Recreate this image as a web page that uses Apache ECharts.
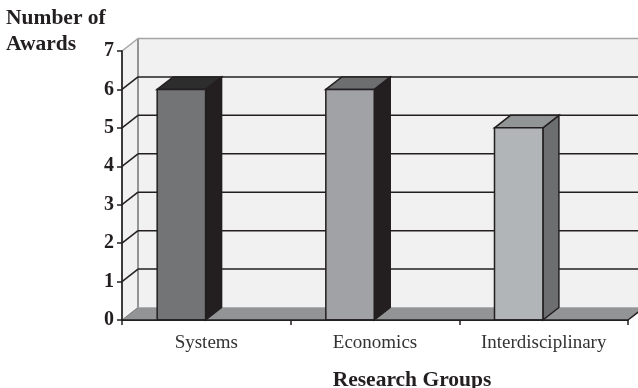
<!DOCTYPE html>
<html>
<head>
<meta charset="utf-8">
<style>html,body{margin:0;padding:0;background:#fff}#chart{width:638px;height:388px}</style>
<script src="https://cdn.jsdelivr.net/npm/echarts@6/dist/echarts.min.js"></script>
</head>
<body>
<div id="chart"></div>
<script>
// Awards per research group
const categories = ['Systems', 'Economics', 'Interdisciplinary'];
const awards = [6, 6, 5];
const valueTicks = [1, 2, 3, 4, 5, 6];
const frontColors = ['#737476', '#a1a2a5', '#b2b5b8'];
const topColors = ['#2e2d2e', '#6d6e70', '#929596'];
const sideColors = ['#231f20', '#231f20', '#6d6e70'];

const SERIF = '"Liberation Serif", "Times New Roman", serif';
const INK = '#231f20';
const DX = 16, DY = 12.5;           // pseudo-3D depth of the plot box
const BAR_RATIO = 0.287, BAR_SHIFT = -0.148; // bar width and offset, in bands

const chart = echarts.init(document.getElementById('chart'), null, { renderer: 'canvas' });

function poly(points, fill, stroke, lineWidth) {
  return {
    type: 'polygon',
    shape: { points },
    style: { fill, stroke: stroke || 'none', lineWidth: lineWidth || 0, lineJoin: 'miter' }
  };
}
function seg(x1, y1, x2, y2, stroke, lineWidth) {
  return { type: 'line', shape: { x1, y1, x2, y2 }, style: { stroke, lineWidth } };
}

// Back wall, side wall and floor of the box
function renderBox(params) {
  const c = params.coordSys;
  const l = c.x, r = c.x + c.width, t = c.y, b = c.y + c.height;
  const far = r + DX;
  return {
    type: 'group',
    children: [
      poly([[l + DX, t - DY], [far, t - DY], [far, b - DY], [l + DX, b - DY]], '#f1f1f1'),
      poly([[l, t], [l + DX, t - DY], [l + DX, b - DY], [l, b]], '#f1f1f1'),
      poly([[l, b], [l + DX, b - DY], [far, b - DY], [r, b]], '#939496'),
      seg(l + DX, b - DY, far, b - DY, '#b0b1b3', 1),
      seg(l + DX, t - DY, far, t - DY, '#a3a4a6', 1.5),
      seg(l + DX, t - DY, l + DX, b - DY, '#939496', 2),
      seg(l, t, l + DX, t - DY, '#a3a4a6', 1.5),
      seg(l, b, l + DX, b - DY, '#77787a', 1),
      seg(r, b, far, b - DY, INK, 1.5)
    ]
  };
}

// Gridline on the back wall plus its diagonal across the side wall
function renderGrid(params, api) {
  const c = params.coordSys;
  const y = api.coord([0, api.value(0)])[1];
  return {
    type: 'group',
    children: [
      seg(c.x, y, c.x + DX, y - DY, INK, 1.5),
      seg(c.x + DX, y - DY, c.x + c.width + DX, y - DY, INK, 1.5)
    ]
  };
}

// Box-shaped bar: front, top and side faces
function renderBar(params, api) {
  const i = api.value(0);
  const top = api.coord([i, api.value(1)]);
  const base = api.coord([i, 0]);
  const band = api.size([1, 0])[0];
  const w = band * BAR_RATIO;
  const x0 = top[0] + band * BAR_SHIFT - w / 2;
  const x1 = x0 + w;
  const yt = top[1], yb = base[1];
  return {
    type: 'group',
    children: [
      poly([[x1, yt], [x1 + DX, yt - DY], [x1 + DX, yb - DY], [x1, yb]], sideColors[i], INK, 1.5),
      poly([[x0, yt], [x0 + DX, yt - DY], [x1 + DX, yt - DY], [x1, yt]], topColors[i], INK, 1.5),
      poly([[x0, yt], [x1, yt], [x1, yb], [x0, yb]], frontColors[i], INK, 1.5)
    ]
  };
}

chart.setOption({
  animation: false,
  backgroundColor: '#ffffff',
  title: {
    text: 'Number of\nAwards',
    left: 6,
    top: 5,
    padding: 0,
    textStyle: { fontFamily: SERIF, fontWeight: 'bold', fontSize: 21.5, lineHeight: 26, color: INK }
  },
  grid: { left: 122, top: 51, width: 506, height: 269, containLabel: false, outerBoundsMode: 'none' },
  xAxis: {
    type: 'category',
    data: categories,
    z: 5,
    name: 'Research Groups',
    nameLocation: 'middle',
    nameGap: 49,
    nameTextStyle: { fontFamily: SERIF, fontWeight: 'bold', fontSize: 21.5, color: INK, padding: [0, 0, 0, 74] },
    axisLine: { lineStyle: { color: INK, width: 1.75 } },
    axisTick: { show: true, alignWithLabel: false, length: 5, lineStyle: { color: INK, width: 1.5 } },
    axisLabel: { fontFamily: SERIF, fontSize: 19, color: '#333333', margin: 14 },
    splitLine: { show: false }
  },
  yAxis: {
    type: 'value',
    min: 0,
    max: 7,
    interval: 1,
    z: 5,
    axisLine: { show: true, lineStyle: { color: INK, width: 1.75 } },
    axisTick: { show: true, length: 5, lineStyle: { color: INK, width: 1.5 } },
    axisLabel: { fontFamily: SERIF, fontWeight: 'bold', fontSize: 20, color: INK, margin: 8, padding: [3, 0, 0, 0] },
    splitLine: { show: false }
  },
  series: [
    { type: 'custom', coordinateSystem: 'cartesian2d', z: 1, silent: true, data: [[0, 0]], renderItem: renderBox },
    {
      type: 'custom', coordinateSystem: 'cartesian2d', z: 2, silent: true,
      encode: { y: 0 }, data: valueTicks.map(v => [v]), renderItem: renderGrid
    },
    {
      type: 'custom', coordinateSystem: 'cartesian2d', z: 3,
      encode: { x: 0, y: 1 }, data: awards.map((v, i) => [i, v]), renderItem: renderBar
    }
  ]
});
</script>
</body>
</html>
